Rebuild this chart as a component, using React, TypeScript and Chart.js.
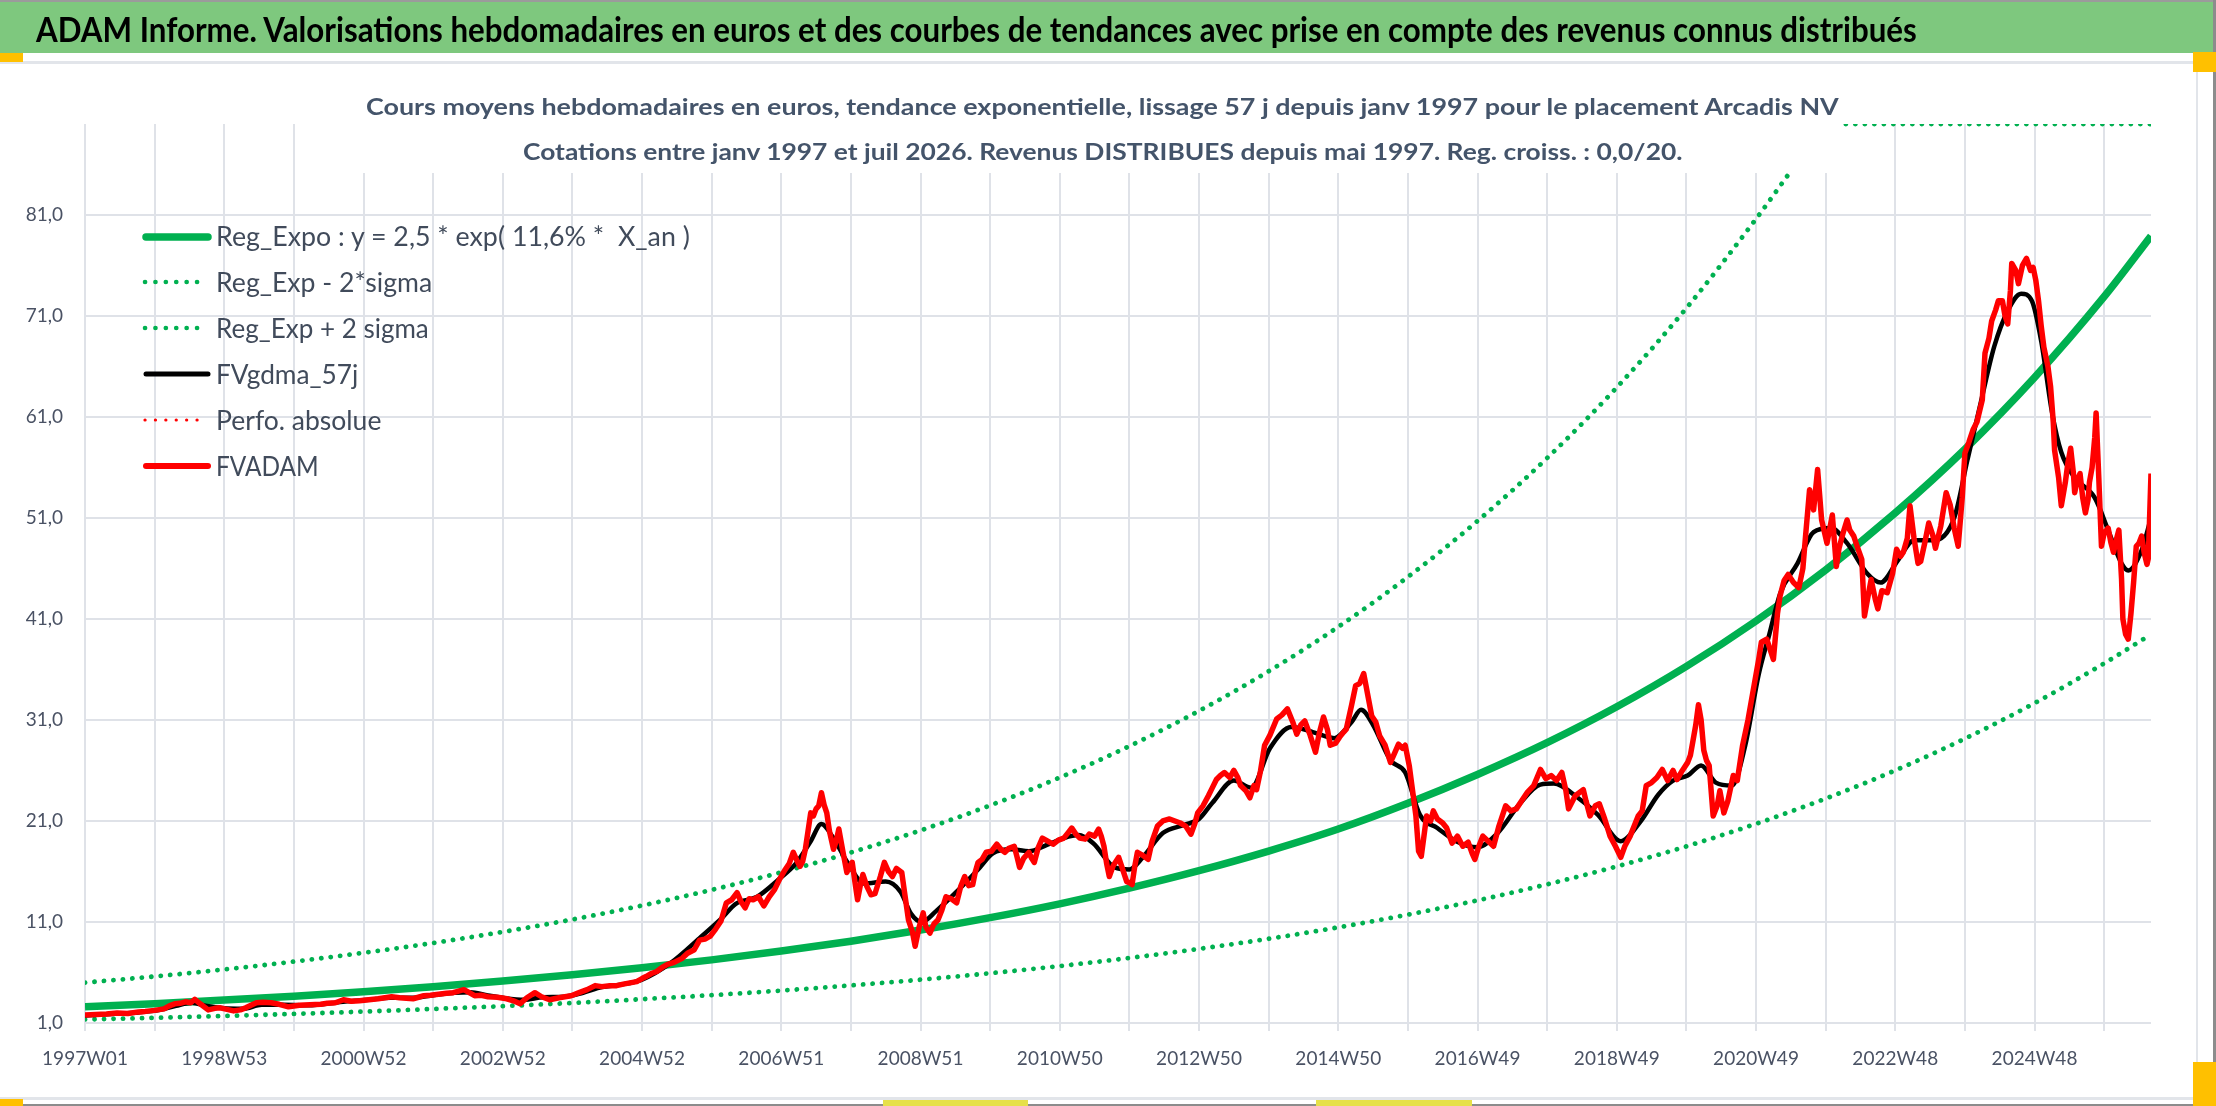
import { useEffect, useLayoutEffect, useRef } from 'react';
import { Chart, registerables } from 'chart.js';

Chart.register(...registerables);

const W = 2216;
const H = 1106;
const FONT = "Lato, 'Open Sans', sans-serif";
const GRID = '#dfe2e8';
const TICK_COLOR = '#4a5264';
const GREEN = '#00b050';

// axes
const xTickLabels = [
  '1997W01', '1998W53', '2000W52', '2002W52', '2004W52', '2006W51', '2008W51', '2010W50',
  '2012W50', '2014W50', '2016W49', '2018W49', '2020W49', '2022W48', '2024W48',
];
const xGridWeeks = [
  0, 52, 104, 156, 208, 260, 312, 364, 416, 468, 520, 572, 624, 676, 728, 780, 832, 884, 936,
  988, 1040, 1092, 1144, 1196, 1248, 1300, 1352, 1404, 1456, 1508,
];
const yTickValues = [1, 11, 21, 31, 41, 51, 61, 71, 81];
const lastWeek = 1543;

// trend curves, read at each gridline week
const regWeeks = [
  0, 52, 104, 156, 208, 260, 312, 364, 416, 468, 520, 572, 624, 676, 728, 780, 832, 884, 936,
  988, 1040, 1092, 1144, 1196, 1248, 1300, 1352, 1404, 1456, 1508, 1543,
];
const regValues = [
  2.6, 2.91, 3.27, 3.66, 4.1, 4.6, 5.15, 5.77, 6.47, 7.25, 8.12, 9.1, 10.2, 11.43, 12.8, 14.35,
  16.08, 18.02, 20.2, 22.75, 25.6, 28.75, 32.3, 36.3, 40.8, 45.85, 51.5, 57.8, 64.9, 72.9, 78.9,
];
const lowValues = [
  1.35, 1.51, 1.7, 1.9, 2.13, 2.39, 2.67, 2.99, 3.36, 3.76, 4.21, 4.72, 5.29, 5.93, 6.64, 7.44,
  8.34, 9.34, 10.47, 11.73, 13.14, 14.73, 16.5, 18.49, 20.72, 23.22, 26.01, 29.15, 32.66, 36.6,
  39.47,
];
const highWeeks = [
  0, 52, 104, 156, 208, 260, 312, 364, 416, 468, 520, 572, 624, 676, 728, 780, 832, 884, 936,
  988, 1040, 1092, 1144, 1196, 1248, 1270, 1290, 1300, 1352, 1404, 1456, 1508, 1543,
];
// the +2 sigma curve leaves the top of the plot and runs along its edge
const highValues = [
  5.0, 5.61, 6.3, 7.08, 7.95, 8.92, 10.02, 11.25, 12.63, 14.18, 15.92, 17.88, 20.07, 22.54, 25.3,
  28.41, 31.9, 35.82, 40.22, 45.16, 50.7, 56.93, 63.92, 71.77, 80.6, 84.6, 88.3, 90, 90, 90, 90,
  90, 90,
];

// FVADAM weekly valuation (sampled)
const adamWeeks = [
  0, 8, 16, 24, 32, 40, 45, 52, 59, 63, 67, 71, 75, 79, 82, 86, 92, 97, 101, 106, 111, 116, 120,
  124, 128, 133, 139, 145, 152, 160, 168, 176, 181, 187, 193, 199, 205, 212, 219, 224, 229, 235,
  240, 245, 249, 253, 258, 264, 270, 275, 279, 283, 287, 291, 296, 301, 308, 315, 320, 325, 330,
  336, 341, 347, 354, 363, 369, 375, 381, 386, 392, 397, 402, 408, 412, 416, 419, 423, 427, 431,
  435, 440, 446, 450, 455, 459, 463, 467, 471, 475, 479, 483, 487, 490, 493, 496, 499, 503, 507,
  511, 515, 519, 523, 526, 529, 532, 534, 536, 538, 540, 542, 544, 546, 548, 550, 552, 554, 556,
  559, 561, 563, 566, 569, 571, 573, 575, 577, 579, 581, 584, 587, 590, 594, 597, 600, 603, 606,
  610, 612, 615, 618, 620, 623, 626, 628, 631, 634, 637, 640, 643, 647, 651, 654, 657, 660, 663,
  665, 667, 670, 673, 677, 681, 684, 687, 690, 694, 696, 698, 701, 705, 707, 709, 712, 715, 719,
  723, 727, 731, 734, 737, 740, 743, 747, 750, 754, 757, 759, 761, 763, 765, 768, 772, 775, 778,
  780, 782, 784, 786, 790, 794, 797, 801, 805, 810, 814, 818, 822, 826, 829, 831, 835, 839, 842,
  845, 848, 851, 855, 858, 861, 863, 867, 870, 873, 875, 878, 881, 885, 890, 894, 898, 902, 905,
  908, 911, 915, 919, 922, 925, 928, 930, 934, 937, 940, 942, 946, 949, 952, 955, 958, 961, 964,
  967, 971, 975, 978, 981, 984, 986, 989, 991, 994, 996, 998, 1000, 1002, 1005, 1007, 1010, 1014,
  1017, 1021, 1025, 1029, 1033, 1036, 1038, 1041, 1044, 1048, 1052, 1056, 1061, 1065, 1069, 1073,
  1077, 1082, 1087, 1091, 1095, 1099, 1103, 1106, 1108, 1113, 1119, 1121, 1124, 1128, 1131, 1135,
  1139, 1143, 1147, 1150, 1154, 1157, 1160, 1163, 1166, 1170, 1174, 1178, 1182, 1186, 1189, 1193,
  1197, 1199, 1201, 1203, 1205, 1207, 1209, 1211, 1213, 1216, 1219, 1221, 1224, 1227, 1231, 1234,
  1238, 1242, 1246, 1250, 1252, 1256, 1261, 1264, 1266, 1269, 1272, 1276, 1280, 1283, 1285, 1288,
  1291, 1294, 1297, 1301, 1305, 1308, 1310, 1313, 1316, 1318, 1321, 1324, 1327, 1329, 1332, 1334,
  1337, 1339, 1342, 1346, 1350, 1353, 1356, 1358, 1361, 1363, 1366, 1369, 1371, 1374, 1377, 1380,
  1382, 1386, 1390, 1393, 1396, 1399, 1402, 1404, 1407, 1410, 1413, 1417, 1419, 1422, 1424, 1427,
  1429, 1432, 1434, 1436, 1438, 1439, 1442, 1444, 1447, 1450, 1453, 1455, 1457, 1459, 1461, 1463,
  1466, 1468, 1470, 1471, 1474, 1476, 1479, 1481, 1483, 1485, 1486, 1488, 1490, 1492, 1494, 1496,
  1497, 1499, 1501, 1502, 1504, 1506, 1508, 1511, 1513, 1515, 1517, 1519, 1521, 1522, 1524, 1526,
  1528, 1530, 1532, 1534, 1536, 1538, 1540, 1541, 1543,
];
const adamValues = [
  1.8, 1.85, 1.9, 2.0, 1.95, 2.1, 2.15, 2.25, 2.4, 2.7, 2.9, 2.95, 3.1, 3.0, 3.35, 2.9, 2.3, 2.45,
  2.5, 2.35, 2.2, 2.3, 2.5, 2.75, 3.0, 3.05, 3.0, 2.85, 2.6, 2.75, 2.8, 2.85, 2.95, 3.0, 3.3,
  3.15, 3.2, 3.3, 3.4, 3.5, 3.6, 3.5, 3.45, 3.4, 3.55, 3.7, 3.75, 3.85, 3.95, 4.0, 4.15, 4.3, 4.0,
  3.7, 3.75, 3.6, 3.55, 3.4, 3.2, 2.9, 3.5, 4.0, 3.6, 3.3, 3.5, 3.7, 4.0, 4.3, 4.7, 4.6, 4.7,
  4.7, 4.85, 5.0, 5.1, 5.4, 5.6, 5.9, 6.1, 6.5, 6.8, 7.0, 7.4, 7.9, 8.25, 9.2, 9.3, 9.6, 10.3,
  11.1, 12.9, 13.2, 13.9, 13.0, 12.4, 13.3, 13.2, 13.5, 12.6, 13.5, 14.2, 15.3, 16.2, 16.8, 17.9,
  17.0, 16.5, 17.0, 18.2, 20.0, 21.8, 21.5, 22.2, 22.5, 23.8, 22.6, 21.8, 20.0, 18.2, 19.0, 20.2,
  18.0, 15.9, 16.5, 16.9, 15.0, 13.2, 14.6, 15.7, 14.5, 13.7, 13.8, 15.5, 16.9, 16.0, 15.5, 16.3,
  15.9, 14.0, 11.2, 10.0, 8.6, 10.5, 11.9, 10.5, 9.9, 10.8, 11.2, 12.2, 13.5, 13.3, 12.9, 14.5,
  15.5, 14.6, 14.7, 16.0, 16.9, 17.2, 17.9, 18.0, 18.7, 18.2, 17.9, 18.3, 18.5, 17.5, 16.4, 17.3,
  17.9, 17.3, 16.9, 18.4, 19.3, 19.0, 18.7, 19.1, 19.3, 19.8, 20.3, 19.7, 19.3, 19.2, 19.7, 19.5,
  20.2, 19.5, 18.5, 16.8, 15.5, 16.6, 17.4, 16.2, 15.0, 14.9, 14.7, 16.5, 17.9, 17.6, 17.2, 19.0,
  20.5, 21.0, 21.2, 21.0, 20.8, 20.5, 19.7, 20.8, 21.8, 22.5, 23.5, 24.3, 25.1, 25.5, 25.8, 25.3,
  26.0, 25.3, 24.5, 24.0, 23.3, 24.5, 24.1, 26.0, 28.5, 29.5, 31.1, 31.5, 32.1, 30.8, 29.6, 30.5,
  30.9, 29.5, 27.8, 29.8, 31.3, 30.0, 28.5, 28.7, 29.3, 29.8, 30.1, 32.5, 34.4, 34.6, 35.6, 33.5,
  31.4, 30.8, 29.4, 28.5, 26.8, 27.7, 28.6, 28.2, 28.5, 26.5, 24.5, 21.5, 18.0, 17.5, 19.5, 21.5,
  21.0, 22.0, 21.2, 20.8, 20.3, 18.8, 19.5, 18.5, 18.9, 17.8, 17.2, 18.5, 19.5, 19.0, 18.5, 20.5,
  22.5, 22.0, 22.2, 23.0, 23.8, 24.5, 26.1, 25.2, 25.5, 25.0, 25.8, 24.0, 22.2, 23.5, 24.1, 23.0,
  21.5, 22.5, 22.7, 21.2, 19.5, 18.5, 17.4, 18.5, 19.5, 20.5, 21.5, 22.0, 24.5, 24.8, 25.3, 26.1,
  25.0, 26.0, 25.1, 26.0, 26.8, 27.5, 29.0, 30.5, 32.5, 31.0, 28.0, 27.0, 26.5, 21.5, 22.5, 24.0,
  21.8, 23.0, 25.5, 25.0, 28.5, 31.0, 34.0, 37.0, 38.7, 39.0, 37.0, 41.5, 43.3, 44.8, 45.4, 44.6,
  44.1, 46.0, 49.2, 53.8, 51.8, 55.8, 50.8, 48.5, 51.3, 46.2, 48.0, 49.5, 50.8, 49.8, 49.2, 48.0,
  46.9, 41.3, 43.5, 44.9, 43.0, 42.0, 43.8, 43.6, 45.5, 47.9, 47.2, 47.6, 49.0, 52.2, 49.0, 46.5,
  46.7, 48.5, 50.5, 49.3, 48.0, 50.2, 53.5, 52.3, 50.0, 48.2, 53.0, 57.4, 58.5, 59.7, 60.5, 62.7,
  67.3, 68.8, 70.5, 71.6, 72.5, 72.5, 71.0, 70.2, 73.5, 76.2, 75.5, 74.2, 76.0, 76.7, 75.5, 75.8,
  74.5, 72.5, 70.0, 67.9, 66.0, 64.0, 60.5, 57.7, 55.0, 52.2, 54.5, 56.5, 57.9, 55.5, 53.5, 54.8,
  55.4, 53.0, 51.5, 52.8, 54.5, 56.0, 59.0, 61.4, 55.0, 48.2, 49.5, 50.0, 48.6, 47.6, 48.8, 49.8,
  45.0, 41.0, 39.5, 39.0, 41.5, 44.6, 48.2, 48.5, 49.2, 47.5, 46.4, 47.0, 55.4,
];

// FVgdma_57j smoothed valuation (sampled)
const gdmaWeeks = [
  0, 20, 40, 56, 68, 80, 90, 104, 118, 132, 148, 164, 180, 196, 212, 228, 244, 260, 276, 288,
  300, 314, 328, 342, 358, 372, 386, 400, 416, 438, 459, 475, 486, 502, 518, 531, 542, 550, 558,
  569, 582, 598, 609, 617, 625, 635, 651, 667, 678, 692, 705, 718, 731, 742, 753, 769, 780, 790,
  805, 821, 832, 842, 858, 871, 885, 901, 917, 933, 946, 953, 962, 975, 986, 997, 1010, 1024,
  1040, 1055, 1071, 1087, 1097, 1114, 1130, 1147, 1162, 1175, 1186, 1197, 1207, 1218, 1230, 1240,
  1250, 1258, 1266, 1279, 1291, 1304, 1316, 1331, 1341, 1354, 1366, 1381, 1396, 1406, 1416, 1426,
  1436, 1446, 1454, 1461, 1469, 1476, 1486, 1501, 1511, 1521, 1526, 1536, 1543,
];
const gdmaValues = [
  1.75, 1.9, 2.05, 2.3, 2.7, 3.0, 2.7, 2.45, 2.4, 2.8, 2.8, 2.75, 2.9, 3.15, 3.3, 3.5, 3.5, 3.75,
  4.0, 4.05, 3.75, 3.45, 3.3, 3.55, 3.6, 4.0, 4.55, 4.8, 5.3, 7.0, 9.4, 11.3, 12.8, 13.5, 15.2,
  16.8, 19.0, 20.7, 19.5, 17.0, 14.8, 15.0, 14.0, 11.8, 11.0, 12.0, 14.0, 16.2, 17.8, 18.2, 18.0,
  18.6, 19.3, 19.6, 18.8, 16.4, 16.2, 17.4, 19.8, 20.6, 21.2, 22.8, 25.0, 24.3, 28.2, 30.3, 29.8,
  29.2, 30.8, 32.0, 30.5, 27.0, 25.8, 21.6, 20.3, 19.0, 18.4, 19.8, 22.6, 24.6, 24.7, 23.4, 21.6,
  19.0, 21.0, 23.6, 25.0, 25.5, 26.5, 24.8, 24.5, 28.5, 35.5, 39.5, 43.5, 46.5, 49.6, 50.0, 48.5,
  45.5, 44.6, 46.8, 48.8, 48.8, 51.0, 56.8, 62.5, 68.0, 71.5, 73.2, 72.5, 68.5, 61.5, 57.5, 55.0,
  53.0, 49.8, 46.5, 45.8, 47.8, 51.0,
];

// "Perfo. absolue" has no plotted values
const perfoWeeks: number[] = [];
const perfoValues: number[] = [];

const legendItems = [
  { label: 'Reg_Expo : y = 2,5 * exp( 11,6% *  X_an )', color: GREEN, width: 7.5, dotted: false, textWidth: 474 },
  { label: 'Reg_Exp - 2*sigma', color: GREEN, width: 4.6, dotted: true, textWidth: 216 },
  { label: 'Reg_Exp + 2 sigma', color: GREEN, width: 4.6, dotted: true, textWidth: 213 },
  { label: 'FVgdma_57j', color: '#000000', width: 5, dotted: false, textWidth: 142 },
  { label: 'Perfo. absolue', color: '#ff0000', width: 3.2, dotted: true, textWidth: 165 },
  { label: 'FVADAM', color: '#ff0000', width: 6, dotted: false, textWidth: 103 },
];

const pts = (xs: number[], ys: number[]) => xs.map((x, i) => ({ x, y: ys[i] }));

// Text stretched horizontally to the width measured on the reference.
function FitText({ text, left, top, width, size, weight = 400, color, center = false }: any) {
  const ref = useRef<HTMLSpanElement>(null);
  useLayoutEffect(() => {
    const el = ref.current;
    if (!el) return;
    const fit = () => {
      el.style.transform = 'none';
      const natural = el.offsetWidth;
      if (natural > 0) el.style.transform = `scaleX(${width / natural})`;
    };
    fit();
    (document as any).fonts?.ready?.then(fit);
  }, [text, width]);
  return (
    <span
      ref={ref}
      style={{
        position: 'absolute',
        left: center ? left - width / 2 : left,
        top,
        fontSize: size,
        fontWeight: weight,
        color,
        fontFamily: FONT,
        lineHeight: 1,
        whiteSpace: 'pre',
        transformOrigin: 'left top',
      }}
    >
      {text}
    </span>
  );
}

function Box({ x, y, w, h, c }: { x: number; y: number; w: number; h: number; c: string }) {
  return <div style={{ position: 'absolute', left: x, top: y, width: w, height: h, background: c }} />;
}

function PriceChart() {
  const canvasRef = useRef<HTMLCanvasElement>(null);
  const chartRef = useRef<Chart | null>(null);

  useEffect(() => {
    if (!canvasRef.current) return;
    const dotted = { borderDash: [0.1, 9.4], borderCapStyle: 'round' as const, borderWidth: 4.8 };

    chartRef.current = new Chart(canvasRef.current, {
      type: 'line',
      data: {
        datasets: [
          {
            label: 'FVADAM',
            data: pts(adamWeeks, adamValues),
            borderColor: '#ff0000',
            borderWidth: 5.5,
            borderJoinStyle: 'round',
            tension: 0,
            order: 0,
          },
          {
            label: 'Perfo. absolue',
            data: pts(perfoWeeks, perfoValues),
            borderColor: '#ff0000',
            borderDash: [0.1, 6],
            borderCapStyle: 'round',
            borderWidth: 3,
            order: 1,
          },
          {
            label: 'FVgdma_57j',
            data: pts(gdmaWeeks, gdmaValues),
            borderColor: '#000000',
            borderWidth: 4.5,
            cubicInterpolationMode: 'monotone',
            order: 2,
          },
          {
            label: 'Reg_Exp + 2 sigma',
            data: pts(highWeeks, highValues),
            borderColor: GREEN,
            cubicInterpolationMode: 'monotone',
            ...dotted,
            order: 3,
          },
          {
            label: 'Reg_Exp - 2*sigma',
            data: pts(regWeeks, lowValues),
            borderColor: GREEN,
            cubicInterpolationMode: 'monotone',
            ...dotted,
            order: 4,
          },
          {
            label: 'Reg_Expo : y = 2,5 * exp( 11,6% *  X_an )',
            data: pts(regWeeks, regValues),
            borderColor: GREEN,
            borderWidth: 7.5,
            cubicInterpolationMode: 'monotone',
            order: 5,
          },
        ],
      },
      options: {
        responsive: false,
        animation: false,
        events: [],
        elements: { point: { radius: 0 } },
        layout: { padding: { left: 0, top: 124, right: 65, bottom: 12 } },
        plugins: {
          legend: { display: false },
          tooltip: { enabled: false },
        },
        scales: {
          x: {
            type: 'linear',
            min: 0,
            max: lastWeek,
            afterBuildTicks: (s: any) => {
              s.ticks = xGridWeeks.map((v) => ({ value: v }));
            },
            afterFit: (s: any) => {
              s.height = 71;
            },
            ticks: {
              autoSkip: false,
              maxRotation: 0,
              minRotation: 0,
              padding: 16,
              color: TICK_COLOR,
              font: { family: FONT, size: 19 },
              callback: (v: any) => (Number(v) % 104 === 0 ? xTickLabels[Number(v) / 104] : ''),
            },
            grid: { color: GRID, lineWidth: 2, tickLength: 8, drawTicks: true },
            border: { display: false },
          },
          y: {
            min: 1,
            max: 90,
            afterBuildTicks: (s: any) => {
              s.ticks = yTickValues.map((v) => ({ value: v }));
            },
            afterFit: (s: any) => {
              s.width = 85;
            },
            ticks: {
              padding: 22,
              color: TICK_COLOR,
              font: { family: FONT, size: 19 },
              callback: (v: any) => Number(v).toFixed(1).replace('.', ','),
            },
            grid: { color: GRID, lineWidth: 2, drawTicks: false },
            border: { display: false },
          },
        },
      },
    });

    return () => {
      chartRef.current?.destroy();
    };
  }, []);

  return (
    <canvas
      ref={canvasRef}
      width={W}
      height={H}
      style={{ position: 'absolute', left: 0, top: 0 }}
      role="img"
      aria-label="Arcadis NV weekly valuation in euros with exponential trend and 2-sigma bands, 1997-2026"
    />
  );
}

function Legend() {
  return (
    <>
      {legendItems.map((it, i) => {
        const cy = 236.5 + i * 45.9;
        return (
          <div key={it.label}>
            <svg
              width={72}
              height={20}
              style={{ position: 'absolute', left: 141, top: cy - 10 }}
            >
              <line
                x1={it.dotted ? 4 : 5}
                x2={it.dotted ? 66 : 67}
                y1={10}
                y2={10}
                stroke={it.color}
                strokeWidth={it.width}
                strokeLinecap="round"
                strokeDasharray={it.dotted ? '0.1 10.3' : undefined}
              />
            </svg>
            <FitText
              text={it.label}
              left={216}
              top={cy - 14.3}
              width={it.textWidth}
              size={27}
              color="#414b5b"
            />
          </div>
        );
      })}
    </>
  );
}

export default function App() {
  return (
    <div
      style={{
        position: 'fixed',
        left: 0,
        top: 0,
        width: W,
        height: H,
        background: '#ffffff',
        overflow: 'hidden',
      }}
    >
      {/* frame of the sheet */}
      <Box x={0} y={0} w={W} h={2} c="#9b9b9b" />
      <Box x={0} y={2} w={W} h={51} c="#7ec87e" />
      <Box x={0} y={61} w={2196} h={2.5} c="#e2e5ea" />
      <Box x={2196} y={61} w={2} h={1038} c="#e2e5ea" />
      <Box x={0} y={1097} w={2196} h={2.5} c="#e2e5ea" />
      <Box x={0} y={1104} w={W} h={2} c="#8c8c8c" />
      <Box x={2213} y={0} w={3} h={H} c="#8c8c8c" />

      <PriceChart />

      <FitText
        text="ADAM Informe. Valorisations hebdomadaires en euros et des courbes de tendances avec prise en compte des revenus connus distribués"
        left={36}
        top={11.5}
        width={1881}
        size={34}
        weight={700}
        color="#000000"
      />

      {/* chart title box sits over the top of the plot area */}
      <Box x={340} y={85} w={1500} h={88} c="#ffffff" />
      <FitText
        text="Cours moyens hebdomadaires en euros, tendance exponentielle, lissage 57 j depuis janv 1997 pour le placement Arcadis NV"
        left={1102}
        top={95}
        width={1473}
        size={23}
        weight={700}
        color="#44546a"
        center
      />
      <FitText
        text="Cotations entre janv 1997 et juil 2026. Revenus DISTRIBUES depuis mai 1997. Reg. croiss. : 0,0/20."
        left={1102}
        top={139.5}
        width={1159}
        size={23}
        weight={700}
        color="#44546a"
        center
      />

      <Legend />

      {/* selection handles */}
      <Box x={0} y={53} w={23} h={9} c="#ffc000" />
      <Box x={2193} y={52} w={23} h={20} c="#ffc000" />
      <Box x={0} y={1099} w={23} h={7} c="#ffc000" />
      <Box x={883} y={1100} w={145} h={6} c="#e6e04a" />
      <Box x={1316} y={1100} w={156} h={6} c="#e6e04a" />
      <Box x={2193} y={1062} w={23} h={44} c="#ffc000" />
    </div>
  );
}
